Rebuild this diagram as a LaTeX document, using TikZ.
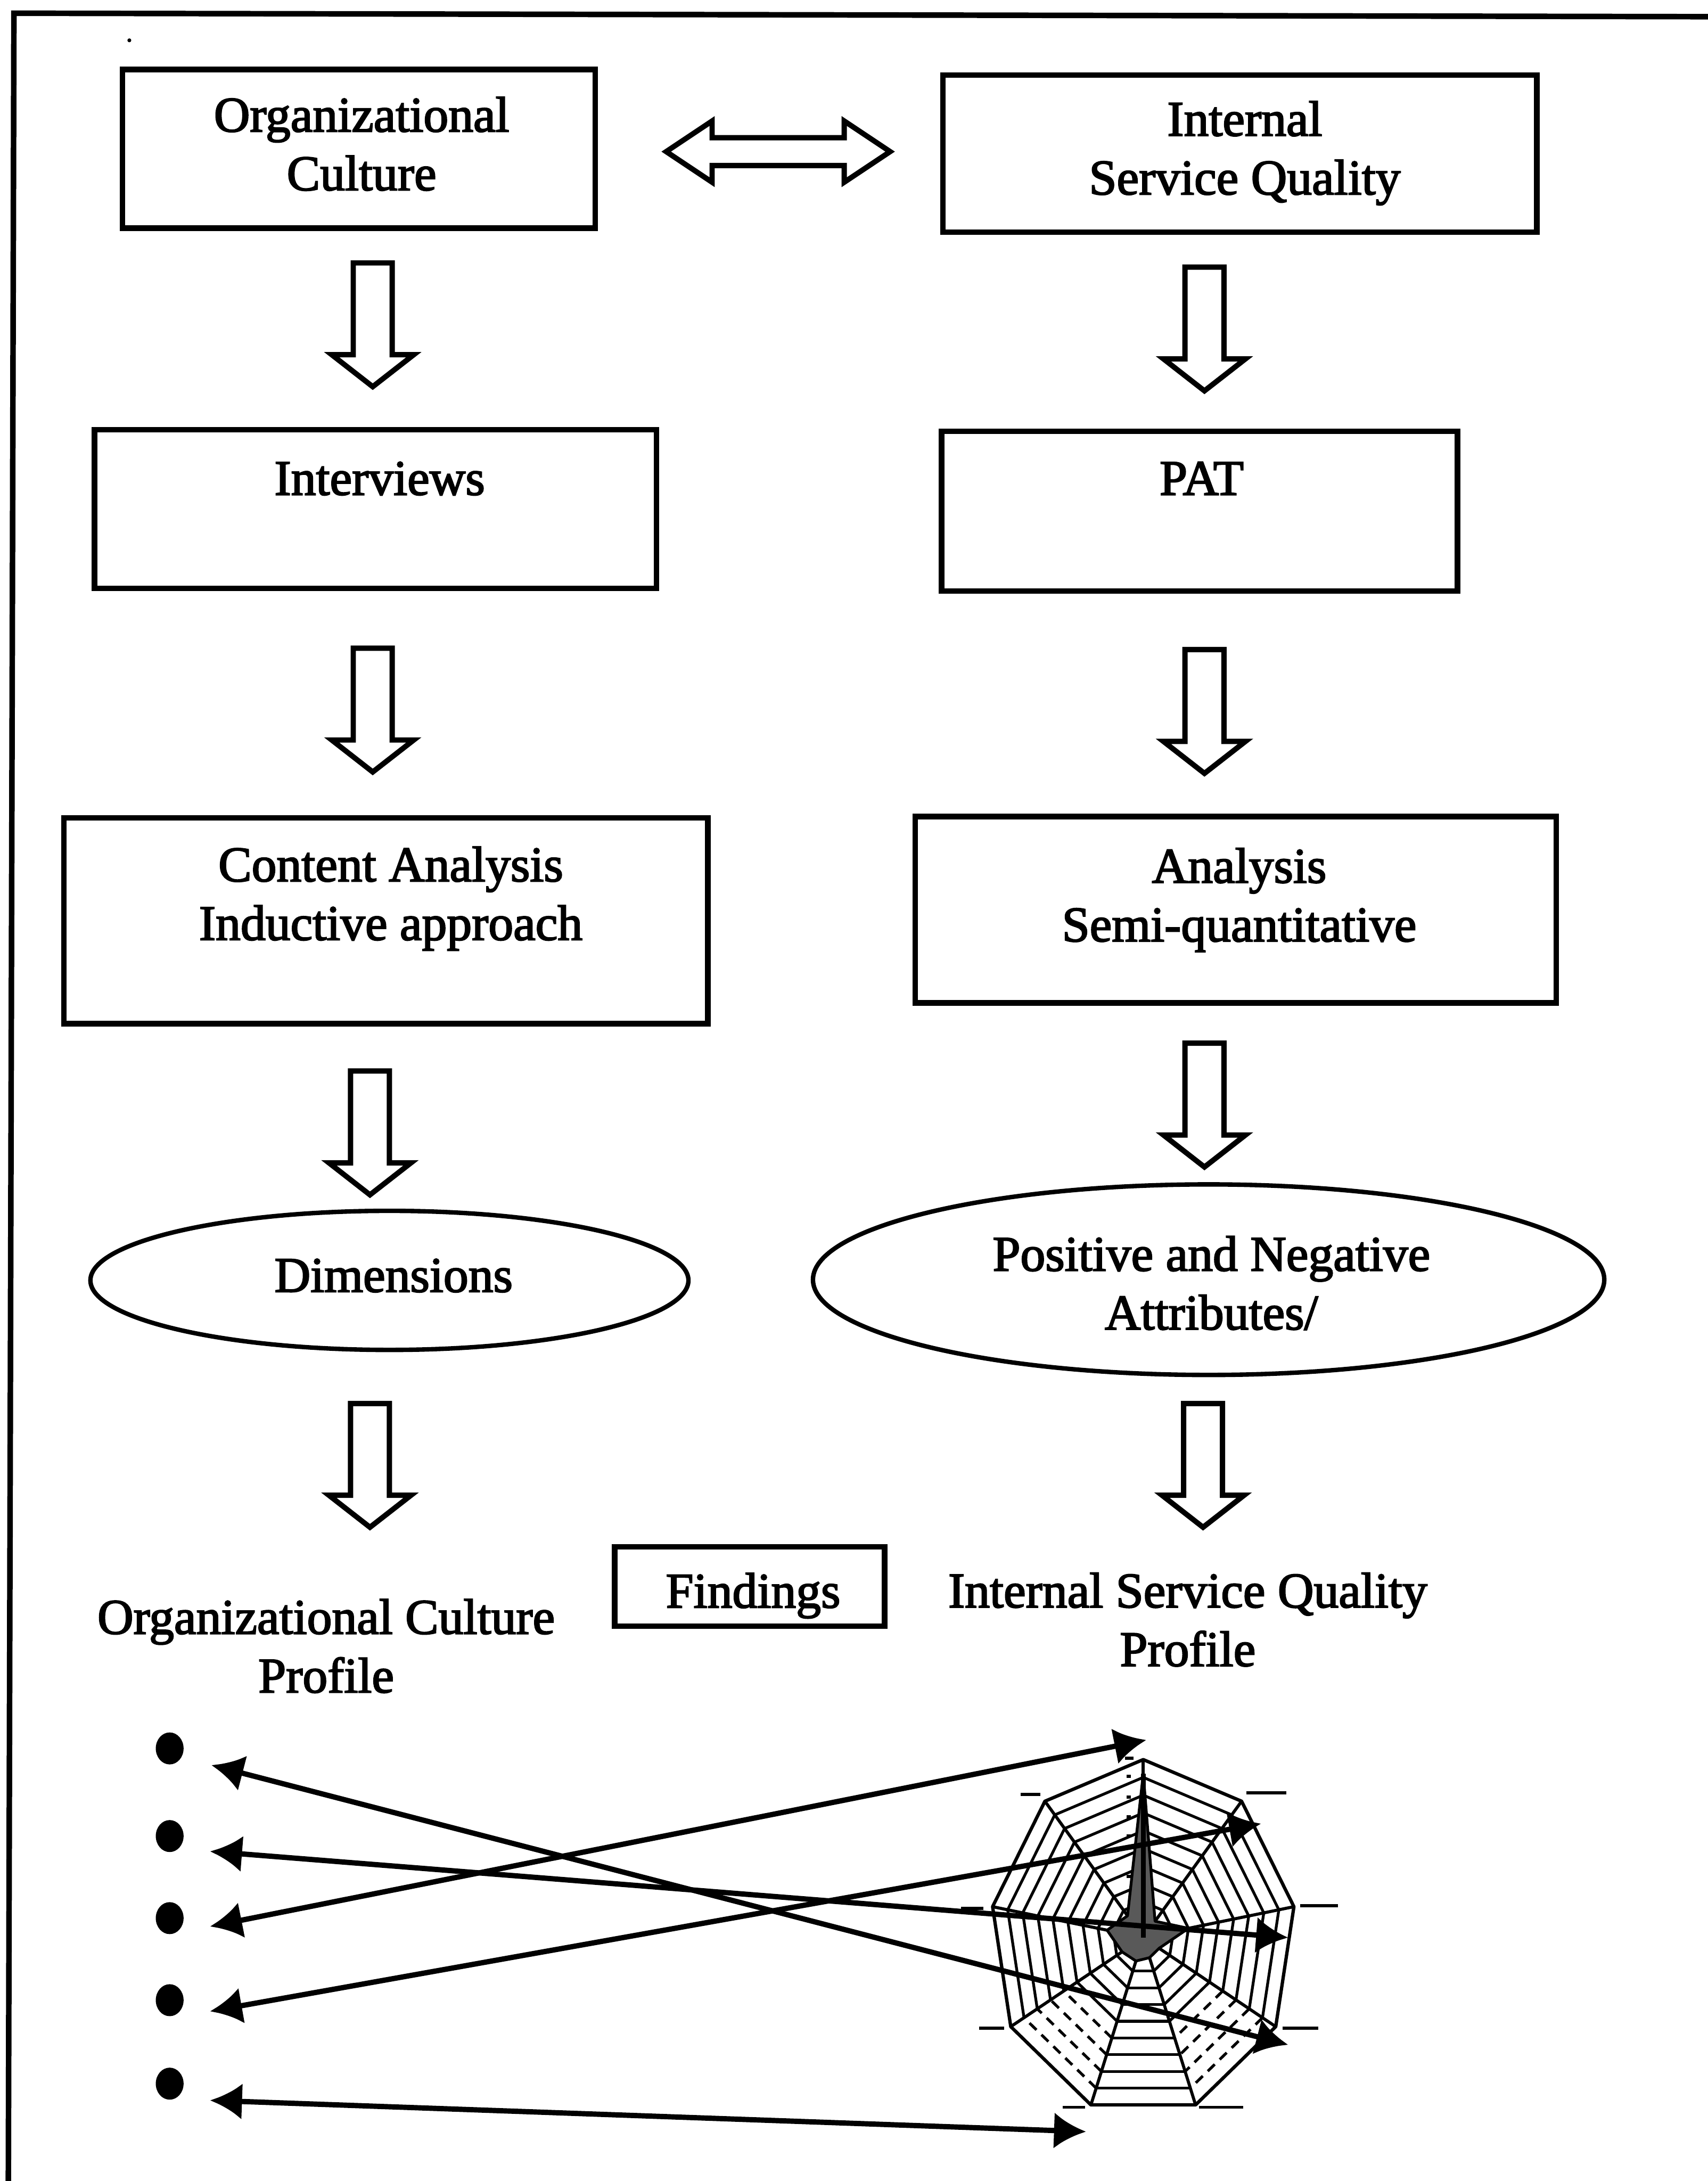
\documentclass[tikz,border=0pt]{standalone}
\usepackage{fontspec}
\setmainfont[FakeBold=2.5]{Liberation Serif}
\usetikzlibrary{arrows.meta,shapes.geometric}

\tikzset{
  txt/.style={font=\fontsize{51}{60}\selectfont, inner sep=0pt, align=center,
              text height=0.72em, text depth=0.22em},
  frameline/.style={line width=0.2cm},
  stagebox/.style={draw, rectangle, line width=0.2cm, inner sep=0pt},
  stageoval/.style={draw, ellipse, line width=0.16cm, inner sep=0pt},
  blockarrow/.style={draw, line width=0.19cm, fill=white, line join=miter},
  linkarrow/.style={line width=0.19cm,
    {Latex[length=1.15cm,width=1.3cm]}-{Latex[length=1.15cm,width=1.3cm]}},
  dotmark/.style={ellipse, fill=black, inner sep=0pt,
                  minimum width=1cm, minimum height=1.15cm},
  web/.style={line width=0.1cm},
  webdash/.style={line width=0.1cm, dash pattern=on 0.35cm off 0.25cm},
  spoke/.style={line width=0.11cm},
  rim/.style={line width=0.12cm, line join=round},
  vlabel/.style={line width=0.11cm},
  downblock/.pic={
    \draw[blockarrow] (-14,0) -- (14,0) -- (14,66) -- (29.5,66) -- (0,89)
      -- (-29.5,66) -- (-14,66) -- cycle;
  }
}

\begin{document}
\begin{tikzpicture}[x=0.05cm, y=-0.05cm]
\useasboundingbox (0,0) rectangle (1228,1568);

% open frame: top and left sides only
\draw[frameline] (6,1568) -- (10,9.5) -- (1228,12);
\fill (93,29) circle (1.4);

% top row
\node[stagebox, minimum width=17.0cm, minimum height=5.7cm] (oc) at (258,107) {};
\node[txt] (oct) at (260,135) {Organizational\\Culture};
\node[stagebox, minimum width=21.35cm, minimum height=5.65cm] (isq) at (891.5,110.5) {};
\node[txt] (isqt) at (895,138) {Internal\\Service Quality};
\draw[blockarrow] (479,109) -- (512,87) -- (512,99) -- (607,99) -- (607,87)
  -- (640,109) -- (607,131) -- (607,119) -- (512,119) -- (512,131) -- cycle;

\pic at (268,189) {downblock};
\pic at (866,192) {downblock};

% data collection
\node[stagebox, minimum width=20.2cm, minimum height=5.7cm] (intv) at (270,366) {};
\node[txt] (intvt) at (273,354) {Interviews};
\node[stagebox, minimum width=18.55cm, minimum height=5.75cm] (pat) at (862.5,367.5) {};
\node[txt] (patt) at (864,354) {PAT};

\pic at (268,466) {downblock};
\pic at (866,467) {downblock};

% analysis
\node[stagebox, minimum width=23.15cm, minimum height=7.4cm] (ca) at (277.5,662) {};
\node[txt] (cat) at (281,674) {Content Analysis\\Inductive approach};
\node[stagebox, minimum width=23.05cm, minimum height=6.7cm] (an) at (888.5,654) {};
\node[txt] (ant) at (891,675) {Analysis\\Semi-quantitative};

\pic at (266,770) {downblock};
\pic at (866,750) {downblock};

% results
\node[stageoval, minimum width=21.5cm, minimum height=5.0cm] (dim) at (280,920.5) {};
\node[txt] (dimt) at (283,927) {Dimensions};
\node[stageoval, minimum width=28.45cm, minimum height=6.85cm] (pna) at (869,920) {};
\node[txt] (pnat) at (871,954) {Positive and Negative\\Attributes/};

\pic at (266,1009) {downblock};
\pic at (865,1009) {downblock};

% findings
\node[stagebox, minimum width=9.7cm, minimum height=2.85cm] (find) at (539,1140.5) {};
\node[txt] (findt) at (541.5,1154) {Findings};
\node[txt] (ocp) at (234.5,1215) {Organizational Culture\\Profile};
\node[txt] (isqp) at (854,1196) {Internal Service Quality\\Profile};

% culture dimensions
\node[dotmark] (d1) at (122,1257) {};
\node[dotmark] (d2) at (122,1320) {};
\node[dotmark] (d3) at (122,1379) {};
\node[dotmark] (d4) at (122,1438) {};
\node[dotmark] (d5) at (122,1498) {};

% radar chart of the service quality attributes
\begin{scope}[shift={(822,1393)}, x=5.5cm, y=6.4cm]
  \foreach \i in {0,1,2,4,6,7,8}{
    \pgfmathsetmacro{\aa}{90-40*\i}
    \pgfmathsetmacro{\ab}{50-40*\i}
    \foreach \k in {1,...,9}{
      \pgfmathsetmacro{\rr}{\k/10}
      \draw[web] (\aa:\rr) -- (\ab:\rr);
    }
  }
  \foreach \i in {3,5}{
    \pgfmathsetmacro{\aa}{90-40*\i}
    \pgfmathsetmacro{\ab}{50-40*\i}
    \foreach \k in {1,...,5}{
      \pgfmathsetmacro{\rr}{\k/10}
      \draw[web] (\aa:\rr) -- (\ab:\rr);
    }
    \foreach \k in {6,...,9}{
      \pgfmathsetmacro{\rr}{\k/10}
      \draw[webdash] (\aa:\rr) -- (\ab:\rr);
    }
  }
  \foreach \a in {90,50,10,-30,-70,-110,-150,170,130}
    \draw[spoke] (0,0) -- (\a:1);
  \draw[rim] (90:1) -- (50:1) -- (10:1) -- (-30:1) -- (-70:1) -- (-110:1)
    -- (-150:1) -- (170:1) -- (130:1) -- cycle;
  \filldraw[fill=black!65, draw=black, line width=0.1cm, line join=round]
    (90:0.92) -- (50:0.12) -- (10:0.3) -- (-30:0.12) -- (-70:0.12)
    -- (-110:0.14) -- (-150:0.16) -- (170:0.24) -- (130:0.16) -- cycle;
  \draw[line width=0.18cm] (0,0) -- (90:0.92);
  \coordinate (pTop) at (0.02,1.11);
  \coordinate (pUR) at (0.77,0.64);
  \coordinate (pR) at (0.947,0.0);
  \coordinate (pLR) at (0.947,-0.602);
  \coordinate (pBot) at (-0.374,-1.09);
\end{scope}

% axis captions of the radar chart
\draw[vlabel] (734,1290) -- (748,1290);
\draw[vlabel] (896,1289) -- (925,1289);
\draw[vlabel] (935,1370) -- (962,1370);
\draw[vlabel] (922,1458) -- (948,1458);
\draw[vlabel] (862,1515) -- (894,1515);
\draw[vlabel] (764,1515) -- (780,1515);
\draw[vlabel] (704,1458) -- (722,1458);
\draw[vlabel] (691,1372) -- (707,1372);
\draw[vlabel] (809,1264) -- (815,1264);
\foreach \yy in {1277,1292,1306,1320,1349}
  \draw[vlabel] (810,\yy) -- (813,\yy);

% links between dimensions and attributes
\coordinate (l1) at (152,1269);
\coordinate (l2) at (151,1331);
\coordinate (l3) at (151,1385);
\coordinate (l4) at (151,1446);
\coordinate (l5) at (151,1510);
\draw[linkarrow] (l1) -- (pLR);
\draw[linkarrow] (l2) -- (pR);
\draw[linkarrow] (l3) -- (pTop);
\draw[linkarrow] (l4) -- (pUR);
\draw[linkarrow] (l5) -- (pBot);
\end{tikzpicture}
\end{document}
